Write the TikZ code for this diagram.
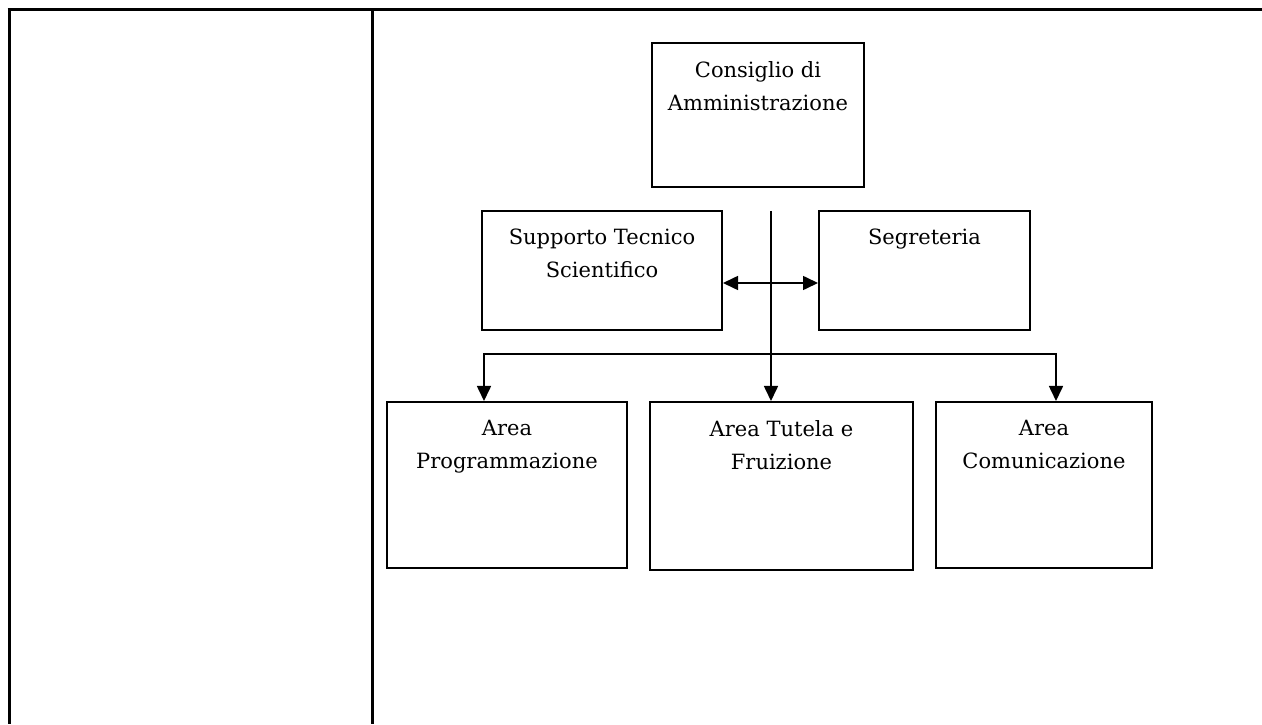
\documentclass[tikz,border=0pt]{standalone}
\usepackage{fontspec}
\setmainfont{DejaVu Serif}
\usepackage{tikz}
\usetikzlibrary{arrows.meta,positioning,calc}
\tikzstyle{box}=[rectangle,draw,line width=2pt,inner sep=0pt]
\tikzstyle{boxtext}=[align=center,inner sep=0pt,anchor=north,font=\fontsize{21}{33}\selectfont]
\tikzstyle{edge} = [draw,line width=1.6pt,-{Triangle[length=15pt,width=14pt]}]
\tikzstyle{twoway} = [draw,line width=1.6pt,{Triangle[length=15pt,width=14pt]}-{Triangle[length=15pt,width=14pt]}]
\tikzstyle{frame} = [draw,line width=3pt]

\begin{document}
\begin{tikzpicture}[x=1pt,y=1pt]
    \useasboundingbox (0,0) rectangle (1262,724);
    % table lines
    \draw[frame] (7.5,714) -- (1262,714);
    \draw[frame] (9,715) -- (9,0);
    \draw[frame] (372,715) -- (372,0);

    \foreach \pos/\name/\bw/\bh/\txt in {{(758,609)/cda/212/144/{Consiglio di\\Amministrazione}},
        {(602,453.5)/sts/240/119/{Supporto Tecnico\\Scientifico}},
        {(924.5,453.5)/seg/211/119/{Segreteria}},
        {(507,239)/apr/240/166/{Area\\Programmazione}},
        {(781.5,238)/atf/263/168/{Area Tutela e\\Fruizione}},
        {(1044,239)/aco/216/166/{Area\\Comunicazione}}}
    {
        \node[box,minimum width=\bw pt,minimum height=\bh pt] (\name) at \pos {};
        \node[boxtext,below=19pt of \name.north] (\name-t) {\txt};
    }

    % connectors
    \coordinate (trunk) at (771,513);
    \coordinate (mid) at (771,441);
    \coordinate (busl) at (484,370);
    \coordinate (busr) at (1056,370);
    \path[edge] (trunk) -- (trunk |- atf.north);
    \path[twoway] (mid -| sts.east) -- (mid -| seg.west);
    \path[twoway] (busl |- apr.north) -- (busl) -- (busr) -- (busr |- aco.north);
\end{tikzpicture}
\end{document}
